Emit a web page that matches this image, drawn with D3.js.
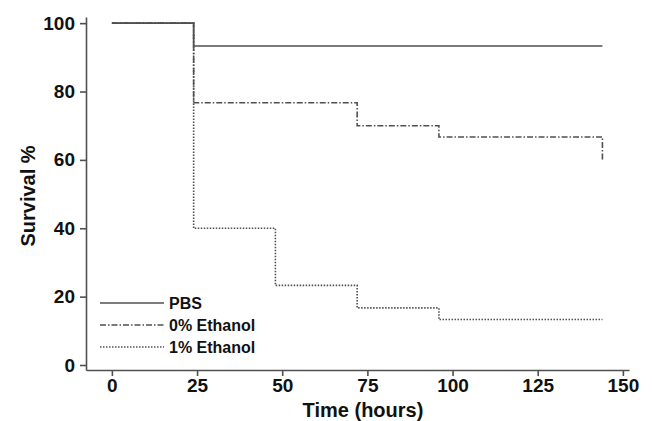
<!DOCTYPE html>
<html>
<head>
<meta charset="utf-8">
<script src="https://cdn.jsdelivr.net/npm/d3@7"></script>
<style>
  body { margin: 0; background: #fff; }
  text { font-family: "Liberation Sans", Arial, sans-serif; font-weight: bold; fill: #111; }
</style>
</head>
<body>
<svg id="chart" width="652" height="421"></svg>
<script>
// survival steps (time in hours, survival %)
const pbsTime = [0, 24, 144];
const pbsSurv = [100, 93.3, 93.3];
const eth0Time = [0, 24, 72, 96, 144];
const eth0Surv = [100, 76.7, 70, 66.7, 60];
const eth1Time = [0, 24, 48, 72, 96, 144];
const eth1Surv = [100, 40, 23.3, 16.7, 13.3, 13.3];

const seriesNames = ["PBS", "0% Ethanol", "1% Ethanol"];
const xTicks = [0, 25, 50, 75, 100, 125, 150];
const yTicks = [0, 20, 40, 60, 80, 100];

var svg = d3.select("#chart");
const lineColor = "#505050";

// axes are offset a bit from the data, Prism style
const x = d3.scaleLinear().domain([-7.6, 151.8]).range([86, 629]);
const y = d3.scaleLinear().domain([-1.46, 101.8]).range([370, 17]);

const xAxis = d3.axisBottom(x).tickValues(xTicks).tickSize(6).tickSizeOuter(0).tickPadding(3);
const gx = svg.append("g")
    .attr("transform", "translate(0," + 370 + ")")
    .call(xAxis);
gx.selectAll("text").style("font-size", "19px");

const yAxis = d3.axisLeft(y).tickValues(yTicks).tickSize(6).tickSizeOuter(0).tickPadding(5);
const gy = svg.append("g")
    .attr("transform", "translate(" + 86 + ",0)")
    .call(yAxis);
gy.selectAll("text").style("font-size", "19px");

svg.selectAll(".domain, .tick line")
    .attr("stroke", lineColor)
    .attr("stroke-width", 1.6);

// axis titles
svg.append("text")
    .attr("x", 363)
    .attr("y", 417)
    .attr("text-anchor", "middle")
    .style("font-size", "20px")
    .text("Time (hours)");

svg.append("text")
    .attr("transform", "translate(35,196)rotate(-90)")
    .attr("text-anchor", "middle")
    .style("font-size", "20px")
    .text("Survival %");

// step lines
const series = [
    { name: seriesNames[0], pts: pbsTime.map((t, i) => [t, pbsSurv[i]]), dash: null },
    { name: seriesNames[1], pts: eth0Time.map((t, i) => [t, eth0Surv[i]]), dash: "6,2,1.5,2" },
    { name: seriesNames[2], pts: eth1Time.map((t, i) => [t, eth1Surv[i]]), dash: "1.5,1.5" }
];

const stepLine = d3.line()
    .x(d => x(d[0]))
    .y(d => y(d[1]))
    .curve(d3.curveStepAfter);

series.slice().reverse().forEach(s => {
    svg.append("path")
        .datum(s.pts)
        .attr("d", stepLine)
        .attr("fill", "none")
        .attr("stroke", lineColor)
        .attr("stroke-width", 1.6)
        .attr("stroke-dasharray", s.dash);
});

// legend
series.forEach((s, i) => {
    const ly = 303 + i * 22;
    svg.append("line")
        .attr("x1", 100).attr("x2", 164)
        .attr("y1", ly).attr("y2", ly)
        .attr("stroke", lineColor)
        .attr("stroke-width", 1.6)
        .attr("stroke-dasharray", s.dash);
    svg.append("text")
        .attr("x", 169)
        .attr("y", ly)
        .attr("dy", "0.36em")
        .style("font-size", "16px")
        .text(s.name);
});
</script>
</body>
</html>
